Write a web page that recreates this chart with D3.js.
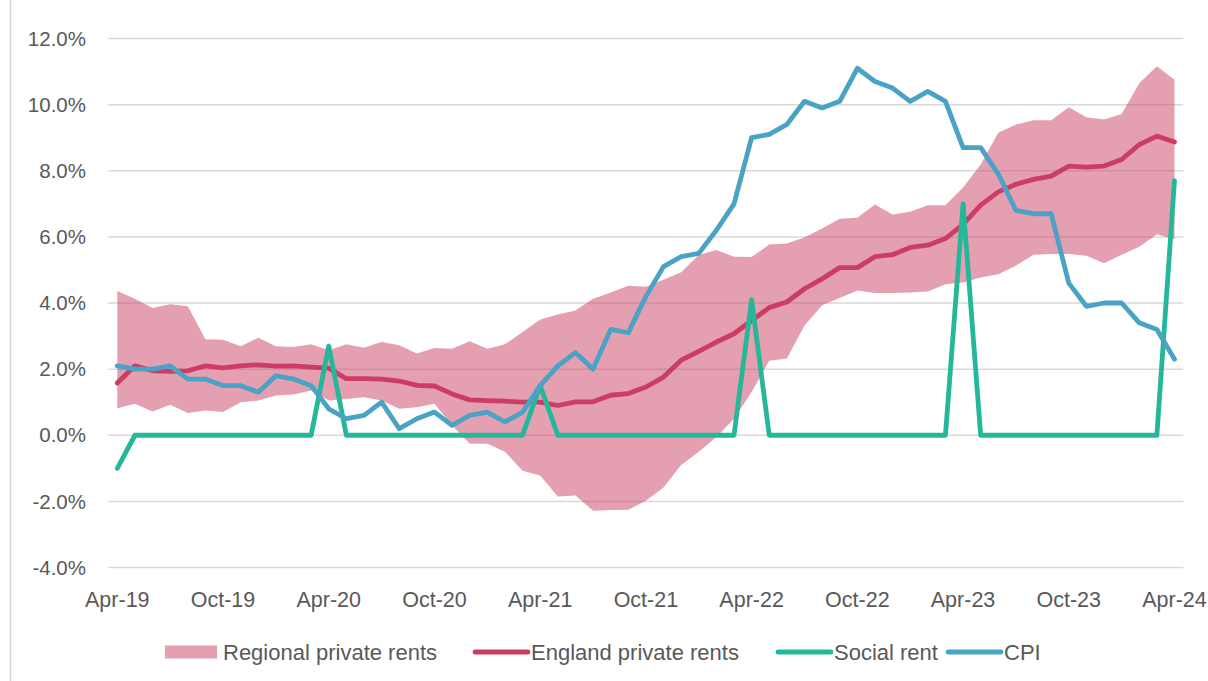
<!DOCTYPE html>
<html>
<head>
<meta charset="utf-8">
<script src="https://cdn.jsdelivr.net/npm/d3@7"></script>
<style>
  html, body { margin: 0; padding: 0; background: #fff; }
  svg { display: block; }
  text { font-family: "Liberation Sans", Arial, sans-serif; fill: #595959; }
</style>
</head>
<body>
<svg id="chart" width="1208" height="681"></svg>
<script>
// Months: Apr-19 .. Apr-24 (61 monthly points)
const months = d3.timeMonth.range(new Date(2019, 3, 1), new Date(2024, 4, 1));
const tickLabels = ["Apr-19","Oct-19","Apr-20","Oct-20","Apr-21","Oct-21","Apr-22","Oct-22","Apr-23","Oct-23","Apr-24"];
const yTicks = [-4, -2, 0, 2, 4, 6, 8, 10, 12];

const regionalLow = [0.82,0.95,0.72,0.92,0.67,0.75,0.70,1.00,1.05,1.20,1.23,1.35,
  1.05,1.10,1.15,1.05,0.80,0.85,0.95,0.30,-0.26,-0.26,-0.50,-1.07,
  -1.22,-1.85,-1.82,-2.28,-2.26,-2.25,-1.98,-1.58,-0.90,-0.50,-0.05,0.50,
  1.31,2.25,2.32,3.32,3.93,4.15,4.38,4.30,4.30,4.32,4.35,4.57,
  4.62,4.77,4.87,5.13,5.46,5.48,5.48,5.43,5.20,5.46,5.70,6.08,5.93];
const regionalHigh = [4.36,4.13,3.85,3.96,3.90,2.90,2.89,2.69,2.95,2.69,2.67,2.75,
  2.57,2.75,2.65,2.82,2.72,2.47,2.64,2.62,2.84,2.62,2.75,3.12,
  3.50,3.65,3.77,4.13,4.32,4.52,4.49,4.70,4.93,5.45,5.60,5.40,
  5.39,5.77,5.80,5.98,6.25,6.55,6.58,6.98,6.68,6.76,6.96,6.96,
  7.49,8.19,9.15,9.40,9.53,9.53,9.92,9.62,9.55,9.72,10.65,11.16,10.75];
const englandRents = [1.58,2.10,1.95,1.93,1.95,2.10,2.04,2.10,2.13,2.09,2.10,2.06,
  2.03,1.71,1.71,1.70,1.64,1.51,1.49,1.25,1.07,1.05,1.03,1.00,
  1.00,0.90,1.01,1.01,1.21,1.26,1.46,1.76,2.27,2.54,2.82,3.07,
  3.47,3.86,4.03,4.43,4.73,5.07,5.07,5.40,5.46,5.68,5.75,5.95,
  6.38,6.96,7.36,7.59,7.74,7.84,8.14,8.11,8.14,8.34,8.79,9.05,8.87];
const socialRent = [-1.0,0,0,0,0,0,0,0,0,0,0,0,
  2.7,0,0,0,0,0,0,0,0,0,0,0,
  1.5,0,0,0,0,0,0,0,0,0,0,0,
  4.1,0,0,0,0,0,0,0,0,0,0,0,
  7.0,0,0,0,0,0,0,0,0,0,0,0,
  7.7];
const cpi = [2.1,2.0,2.0,2.1,1.7,1.7,1.5,1.5,1.3,1.8,1.7,1.5,
  0.8,0.5,0.6,1.0,0.2,0.5,0.7,0.3,0.6,0.7,0.4,0.7,
  1.5,2.1,2.5,2.0,3.2,3.1,4.2,5.1,5.4,5.5,6.2,7.0,
  9.0,9.1,9.4,10.1,9.9,10.1,11.1,10.7,10.5,10.1,10.4,10.1,
  8.7,8.7,7.9,6.8,6.7,6.7,4.6,3.9,4.0,4.0,3.4,3.2,2.3];

const legendItems = [
  {name: "Regional private rents", type: "band"},
  {name: "England private rents", type: "line", color: "#cc3d66"},
  {name: "Social rent", type: "line", color: "#25b79a"},
  {name: "CPI", type: "line", color: "#4aa3c5"}
];

const svg = d3.select("#chart");
const n = months.length;

const x = d3.scaleLinear().domain([0, n - 1]).range([117.3, 1174.5]);
const y = d3.scaleLinear().domain([-4, 12]).range([567.5, 38.5]);

// chart frame edge
svg.append("line").attr("x1", 10.5).attr("x2", 10.5).attr("y1", 0).attr("y2", 681)
  .attr("stroke", "#d9d9d9").attr("stroke-width", 1.5);

// gridlines
svg.append("g").selectAll("line").data(yTicks).join("line")
  .attr("x1", x(-0.5)).attr("x2", x(n - 0.5))
  .attr("y1", d => y(d)).attr("y2", d => y(d))
  .attr("stroke", "#d9d9d9").attr("stroke-width", 1.5);

// y labels (hyphen-minus as in the original)
svg.append("g").selectAll("text").data(yTicks).join("text")
  .attr("x", 86).attr("y", d => y(d)).attr("dy", "0.35em")
  .attr("text-anchor", "end").style("font-size", "20.5px")
  .text(d => d.toFixed(1) + "%");

// x labels
const tickIdx = d3.range(0, n, 6);
svg.append("g").selectAll("text").data(tickIdx).join("text")
  .attr("x", d => x(d)).attr("y", 607)
  .attr("text-anchor", "middle").style("font-size", "21.5px")
  .text((d, i) => tickLabels[i]);

// band
const band = d3.area().x((d, i) => x(i)).y0((d, i) => y(regionalLow[i])).y1((d, i) => y(regionalHigh[i]));
svg.append("path").datum(months).attr("d", band)
  .attr("fill", "rgb(201,64,100)").attr("fill-opacity", 0.5);

const line = arr => d3.line().x((d, i) => x(i)).y(d => y(d))(arr);
[[englandRents, legendItems[1].color], [socialRent, legendItems[2].color], [cpi, legendItems[3].color]]
  .forEach(([arr, c]) => {
    svg.append("path").attr("d", line(arr)).attr("fill", "none")
      .attr("stroke", c).attr("stroke-width", 4.8)
      .attr("stroke-linejoin", "round").attr("stroke-linecap", "round");
  });

// legend
const legendX = [165, 473, 776, 946];
const ly = 652;
const lg = svg.append("g");
legendItems.forEach((it, i) => {
  const x0 = legendX[i];
  if (it.type === "band") {
    lg.append("rect").attr("x", x0).attr("y", ly - 6.5).attr("width", 52).attr("height", 13)
      .attr("fill", "rgb(201,64,100)").attr("fill-opacity", 0.5);
  } else {
    lg.append("line").attr("x1", x0 + 2).attr("x2", x0 + 55).attr("y1", ly).attr("y2", ly)
      .attr("stroke", it.color).attr("stroke-width", 4.8).attr("stroke-linecap", "round");
  }
  lg.append("text").attr("x", x0 + 58).attr("y", ly).attr("dy", "0.35em")
    .style("font-size", "22px").text(it.name);
});
</script>
</body>
</html>
